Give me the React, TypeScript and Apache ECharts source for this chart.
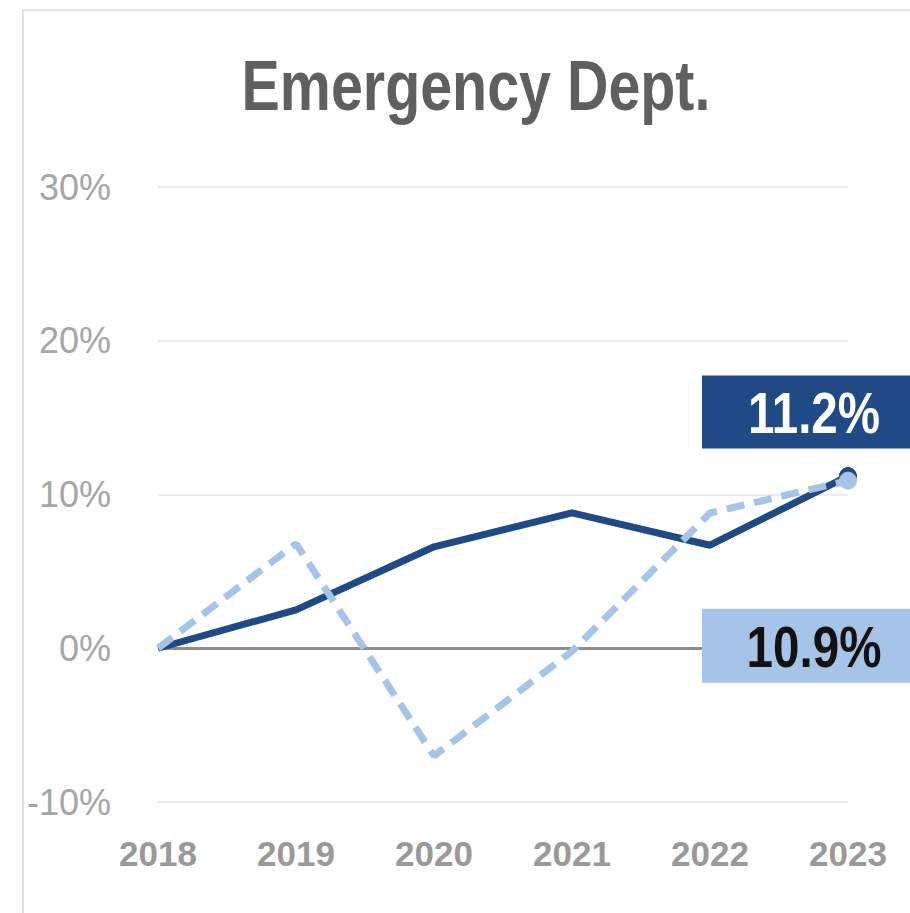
import React, { useEffect, useRef } from "react";
import * as echarts from "echarts";

const years = ["2018", "2019", "2020", "2021", "2022", "2023"];
const deptValues = [0, 2.5, 6.6, 8.8, 6.7, 11.2];
const benchValues = [0, 6.8, -7.0, -0.2, 8.8, 10.9];
const yTicks = [-10, 0, 10, 20, 30];

const DARK = "#1f4a86";
const LIGHT = "#a6c3e8";
const FONT = "'Liberation Sans', Arial, sans-serif";

export default function App() {
  const ref = useRef<HTMLDivElement>(null);
  useEffect(() => {
    if (!ref.current) return;
    const chart = echarts.init(ref.current, undefined, { renderer: "svg" });
    const last = years.length - 1;
    const mk = (arr: number[], color: string) =>
      arr.map((v, i) =>
        i === last
          ? {
              value: v,
              symbol: "circle",
              symbolSize: 17,
              itemStyle: { color, borderColor: color },
            }
          : { value: v, symbol: "none" }
      );
    const baseGraphic: any[] = [
      {
        type: "rect",
        shape: { x: 23, y: 10, width: 1000, height: 1000 },
        style: { fill: "none", stroke: "#e2e2e2", lineWidth: 2 },
        z: -10,
      },
      {
        type: "text",
        x: 476,
        y: 86,
        scaleX: 0.82,
        style: {
          text: "Emergency Dept.",
          font: `bold 70px ${FONT}`,
          fill: "#5f5f5f",
          textAlign: "center",
          textVerticalAlign: "middle",
        },
      },
    ];
    chart.setOption({
      animation: false,
      backgroundColor: "#ffffff",
      graphic: baseGraphic,
      grid: { left: 158, right: 62, top: 187, bottom: 111, containLabel: false },
      xAxis: {
        type: "category",
        data: years,
        boundaryGap: false,
        axisLine: { show: false },
        axisTick: { show: false },
        splitLine: { show: false },
        axisLabel: {
          color: "#999999",
          fontFamily: FONT,
          fontWeight: "bold",
          fontSize: 35,
          margin: 34,
        },
      },
      yAxis: {
        type: "value",
        min: yTicks[0],
        max: yTicks[yTicks.length - 1],
        interval: 10,
        axisLine: { show: false },
        axisTick: { show: false },
        splitLine: { lineStyle: { color: "#e6e6e6", width: 1.5 } },
        axisLabel: {
          formatter: "{value}%",
          color: "#a6a6a6",
          fontFamily: FONT,
          fontSize: 36,
          margin: 47,
        },
      },
      series: [
        {
          type: "line",
          name: "Dept",
          data: mk(deptValues, DARK),
          lineStyle: { color: DARK, width: 7 },
          itemStyle: { color: DARK },
          z: 3,
          markLine: {
            silent: true,
            symbol: "none",
            label: { show: false },
            lineStyle: { color: "#8f8f8f", width: 3, type: "solid" },
            data: [{ yAxis: 0 }],
            z: 1,
          },
        },
        {
          type: "line",
          name: "Benchmark",
          data: mk(benchValues, LIGHT),
          lineStyle: { color: LIGHT, width: 7, type: [18, 10] },
          itemStyle: { color: LIGHT },
          z: 4,
        },
      ],
    });

    // value callouts anchored on the last point of each series
    const pDark = chart.convertToPixel({ seriesIndex: 0 }, [last, deptValues[last]]) as number[];
    const pLight = chart.convertToPixel({ seriesIndex: 1 }, [last, benchValues[last]]) as number[];
    const callout = (p: number[], dy: number, h: number, bg: string, fg: string, v: number) => [
      {
        type: "rect",
        shape: { x: p[0] - 146, y: p[1] + dy - h / 2, width: 230, height: h },
        style: { fill: bg },
        z: 20,
      },
      {
        type: "text",
        x: p[0] - 34,
        y: p[1] + dy + 1,
        scaleX: 0.82,
        z: 21,
        style: {
          text: `${v.toFixed(1)}%`,
          font: `bold 58px ${FONT}`,
          fill: fg,
          textAlign: "center",
          textVerticalAlign: "middle",
        },
      },
    ];
    chart.setOption({
      graphic: [
        ...baseGraphic,
        ...callout(pDark, -64, 73, DARK, "#ffffff", deptValues[last]),
        ...callout(pLight, 165, 74, LIGHT, "#111111", benchValues[last]),
      ],
    });
    return () => chart.dispose();
  }, []);
  return (
    <div
      ref={ref}
      style={{ position: "fixed", left: 0, top: 0, width: 910, height: 913 }}
    />
  );
}
